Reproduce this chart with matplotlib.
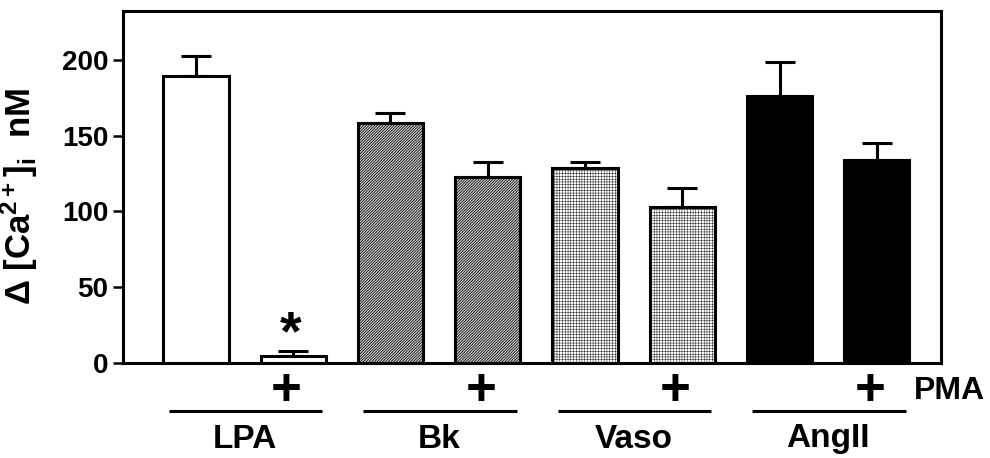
import matplotlib
matplotlib.use('Agg')
import matplotlib.pyplot as plt
import matplotlib.transforms as mtransforms
import numpy as np

# ---- data ----
groups = ['LPA', 'Bk', 'Vaso', 'AngII']
means = [189, 4.6, 158.4, 122.8, 128.7, 103, 176, 134]
errors = [13.6, 3.4, 6.6, 9.9, 4.0, 12.5, 22.7, 11.0]
sig_marks = ['', '*', '', '', '', '', '', '']
pma_flags = ['', '+', '', '+', '', '+', '', '+']
yticks = [0, 50, 100, 150, 200]
ylabel = 'Δ [Ca$^{2+}$]$_i$  nM'
pma_label = 'PMA'

# ---- style ----
plt.rcParams['font.family'] = ['Liberation Sans', 'DejaVu Sans']
plt.rcParams['font.weight'] = 'bold'
plt.rcParams['mathtext.fontset'] = 'custom'
plt.rcParams['mathtext.rm'] = 'Liberation Sans:bold'
plt.rcParams['mathtext.it'] = 'Liberation Sans:bold'
plt.rcParams['mathtext.bf'] = 'Liberation Sans:bold'
plt.rcParams['mathtext.sf'] = 'Liberation Sans:bold'

facecolors = ['white', 'white', '#c4c4c4', '#c4c4c4', 'white', 'white', 'black', 'black']
hatches = [None, None, '/' * 12, '/' * 12, '+' * 6, '+' * 6, None, None]
hatch_lw = [0.5, 0.5, 0.5, 0.5, 0.3, 0.3, 0.5, 0.5]

fig = plt.figure(figsize=(9.9, 4.58), dpi=100)
ax = fig.add_axes([123 / 990, 1 - 363.3 / 458, (941 - 123) / 990, (363.3 - 11) / 458])

x = np.arange(len(means))
bw = 0.67
ax.errorbar(x, means, yerr=[np.zeros(len(errors)), errors], fmt='none',
            ecolor='black', elinewidth=2.2, capsize=10.5, capthick=2.2, zorder=1)
for xi, m, fc, h, hl in zip(x, means, facecolors, hatches, hatch_lw):
    with plt.rc_context({'hatch.linewidth': hl}):
        ax.bar(xi, m, width=bw, color=fc, edgecolor='black', linewidth=2.2,
               hatch=h, zorder=2)

for xi, m, e, s in zip(x, means, errors, sig_marks):
    if s:
        ax.text(xi - 0.03, m + e + 1, s, ha='center', va='baseline',
                fontsize=40, fontweight='bold')

ax.set_xlim(-0.75, 7.66)
ax.set_ylim(0, 232)
ax.set_xticks([])
ax.set_yticks(yticks)
ax.set_yticklabels([str(t) for t in yticks], fontsize=20, fontweight='bold')
ax.tick_params(axis='y', direction='out', length=7.5, width=1.8, pad=3)
for sp in ax.spines.values():
    sp.set_linewidth(2.2)

ax.set_ylabel(ylabel, fontsize=25, fontweight='bold')
ax.yaxis.set_label_coords(-0.101, 0.473)

trans = mtransforms.blended_transform_factory(ax.transData, fig.transFigure)
y_plus = 1 - 391 / 458
y_line = 1 - 411 / 458
y_lab = 1 - 439 / 458
for xi, f in zip(x, pma_flags):
    if f:
        ax.text(xi - 0.07, y_plus, f, transform=trans, ha='center', va='center',
                fontsize=38, fontweight='bold', clip_on=False)
for gi, g in enumerate(groups):
    c0 = 2 * gi
    ax.plot([c0 - 0.28, c0 + 1.3], [y_line, y_line], transform=trans,
            color='black', linewidth=2.2, clip_on=False, solid_capstyle='butt')
    ax.text(c0 + 0.5, y_lab, g, transform=trans, ha='center', va='center',
            fontsize=24, fontweight='bold')

fig.text(949 / 990, y_plus, pma_label, ha='center', va='center',
         fontsize=23, fontweight='bold')

fig.savefig('out.png', dpi=100)
